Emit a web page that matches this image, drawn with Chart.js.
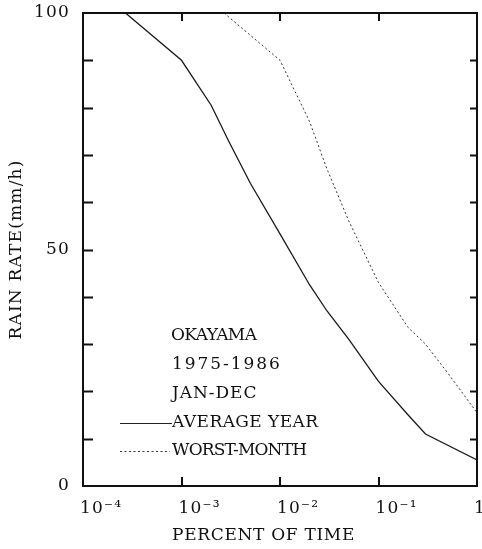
<!DOCTYPE html>
<html>
<head>
<meta charset="utf-8">
<script src="https://cdn.jsdelivr.net/npm/chart.js@4/dist/chart.umd.min.js"></script>
<style>
  html, body { margin: 0; padding: 0; background: #fff; }
  #wrap { width: 482px; height: 549px; }
</style>
</head>
<body>
<div id="wrap"><canvas id="grafico"></canvas></div>
<script>
// dados
var avgPct = [2.7e-4, 1e-3, 2e-3, 3e-3, 5e-3, 1e-2, 2e-2, 3e-2, 5e-2, 1e-1, 2e-1, 3e-1, 1];
var avgRate = [100, 90, 80.5, 73, 64, 53.3, 42.5, 37, 31, 22.1, 15, 11, 5.5];
var worstPct = [2.7e-3, 1e-2, 2e-2, 3e-2, 5e-2, 1e-1, 2e-1, 3e-1, 5e-1, 1];
var worstRate = [100, 90, 77, 67, 56, 43, 33.5, 30, 24, 15.5];
var xTicks = [1e-4, 1e-3, 1e-2, 1e-1, 1];
var xTickLabels = ["10\u207B\u2074", "10\u207B\u00B3", "10\u207B\u00B2", "10\u207B\u00B9", "1"];
var yLabeled = [0, 50, 100];
var notes = ["OKAYAMA", "1975-1986", "JAN-DEC"];
var seriesNames = ["AVERAGE YEAR", "WORST-MONTH"];
var xTitle = "PERCENT OF TIME";

var fonte = "'DejaVu Serif'";
var pitch = 12.2; // largura de cada caractere no original

function pares(xs, ys) {
  return xs.map(function (v, i) { return { x: v, y: ys[i] }; });
}

// escreve texto com a largura de máquina de escrever
function texto(ctx, s, x, y) {
  ctx.font = "17px " + fonte;
  ctx.letterSpacing = "0px";
  var w0 = ctx.measureText(s).width;
  var esp = (s.length * pitch - w0) / s.length;
  ctx.letterSpacing = esp.toFixed(2) + "px";
  ctx.textAlign = "left";
  ctx.textBaseline = "middle";
  ctx.fillText(s, x, y);
}

var moldura = {
  id: "moldura",
  beforeDraw: function (chart) {
    chart.ctx.letterSpacing = "1.2px";
  },
  afterDatasetsDraw: function (chart) {
    var ctx = chart.ctx;
    var a = chart.chartArea;
    var sx = chart.scales.x, sy = chart.scales.y;
    ctx.save();
    ctx.strokeStyle = "#111";
    ctx.lineWidth = 2;
    ctx.strokeRect(a.left, a.top, a.right - a.left, a.bottom - a.top);
    ctx.beginPath();
    for (var v = 10; v < 100; v += 10) {
      var py = Math.round(sy.getPixelForValue(v)) + 0.5;
      ctx.moveTo(a.left, py); ctx.lineTo(a.left + 10, py);
      ctx.moveTo(a.right - 7, py); ctx.lineTo(a.right, py);
    }
    for (var i = 1; i < xTicks.length - 1; i++) {
      var px = Math.round(sx.getPixelForValue(xTicks[i]));
      ctx.moveTo(px, a.bottom); ctx.lineTo(px, a.bottom - 9);
      ctx.moveTo(px, a.top); ctx.lineTo(px, a.top + 8);
    }
    ctx.stroke();

    // bloco de anotações, legenda e título do eixo x
    ctx.fillStyle = "#111";
    texto(ctx, notes[0], 171, 336);
    texto(ctx, notes[1], 172, 365);
    texto(ctx, notes[2], 172, 394);
    texto(ctx, seriesNames[0], 172, 423);
    texto(ctx, seriesNames[1], 172, 451);
    texto(ctx, xTitle, 172, 536);

    ctx.lineWidth = 1.2;
    ctx.strokeStyle = "#222";
    ctx.setLineDash([]);
    ctx.beginPath(); ctx.moveTo(120, 423.5); ctx.lineTo(172, 423.5); ctx.stroke();
    ctx.strokeStyle = "#333";
    ctx.lineWidth = 1;
    ctx.setLineDash([2, 2.5]);
    ctx.beginPath(); ctx.moveTo(120, 451.5); ctx.lineTo(170, 451.5); ctx.stroke();
    ctx.restore();
  }
};

new Chart(document.getElementById("grafico"), {
  type: "line",
  data: {
    datasets: [
      {
        label: seriesNames[0],
        data: pares(avgPct, avgRate),
        borderColor: "#1a1a1a",
        borderWidth: 1.3,
        pointRadius: 0,
        tension: 0
      },
      {
        label: seriesNames[1],
        data: pares(worstPct, worstRate),
        borderColor: "#333",
        borderWidth: 1,
        borderDash: [2, 2.5],
        pointRadius: 0,
        tension: 0
      }
    ]
  },
  options: {
    responsive: true,
    maintainAspectRatio: false,
    animation: false,
    layout: { padding: { left: 0, right: 5, top: 13, bottom: 0 } },
    plugins: { legend: { display: false }, tooltip: { enabled: false } },
    scales: {
      x: {
        type: "logarithmic",
        min: 1e-4,
        max: 1,
        grid: { display: false, drawTicks: false },
        border: { display: false },
        afterBuildTicks: function (scale) {
          scale.ticks = xTicks.map(function (v) { return { value: v }; });
        },
        afterFit: function (scale) {
          scale.height = 63;
          scale.paddingLeft = 0;
          scale.paddingRight = 0;
        },
        ticks: {
          autoSkip: false,
          maxRotation: 0,
          minRotation: 0,
          align: "start",
          labelOffset: -3,
          padding: 12,
          color: "#111",
          font: { family: fonte, size: 17 },
          callback: function (v, i) { return xTickLabels[i]; }
        },
        title: { display: false }
      },
      y: {
        min: 0,
        max: 100,
        grid: { display: false, drawTicks: false },
        border: { display: false },
        afterFit: function (scale) {
          scale.width = 83;
          scale.paddingTop = 0;
          scale.paddingBottom = 0;
        },
        ticks: {
          stepSize: 10,
          autoSkip: false,
          padding: 13,
          color: "#111",
          font: { family: fonte, size: 17 },
          callback: function (v) { return yLabeled.indexOf(v) >= 0 ? String(v) : ""; }
        },
        title: {
          display: true,
          text: "RAIN RATE(mm/h)",
          color: "#111",
          font: { family: fonte, size: 17 },
          padding: { top: 6, bottom: 0 }
        }
      }
    }
  },
  plugins: [moldura]
});
</script>
</body>
</html>
